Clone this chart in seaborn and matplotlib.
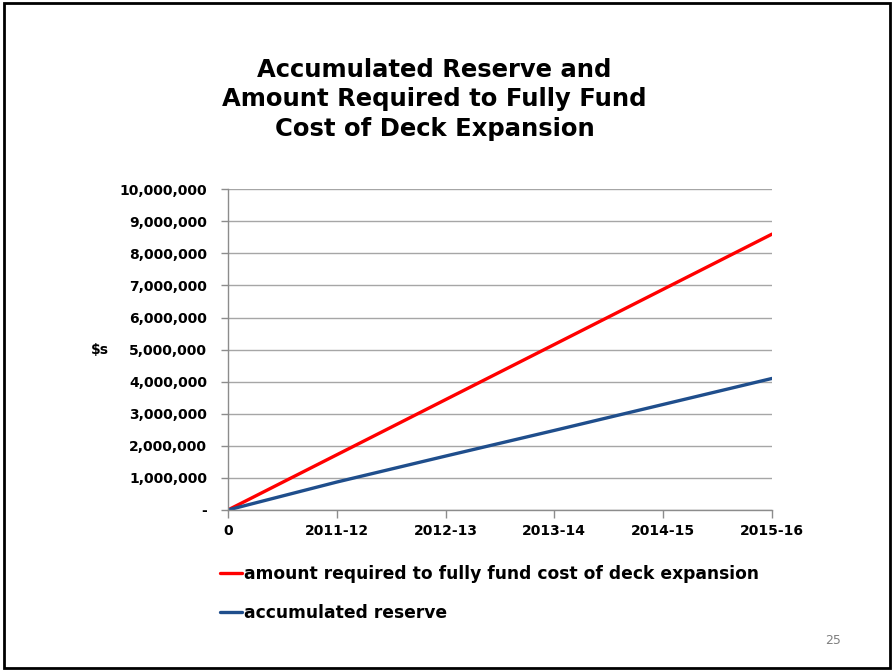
import matplotlib
matplotlib.use("Agg")
import matplotlib.pyplot as plt
import seaborn as sns
import pandas as pd
from matplotlib.patches import Rectangle
from matplotlib.ticker import FuncFormatter

# Fiscal periods and the two series (dollars)
periods = ["0", "2011-12", "2012-13", "2013-14", "2014-15", "2015-16"]
required_amount = [0, 1720000, 3440000, 5160000, 6880000, 8600000]
accumulated_reserve = [0, 870000, 1680000, 2480000, 3290000, 4100000]
series_names = ["amount required to fully fund cost of deck expansion",
                "accumulated reserve"]
series_colors = ["#ff0000", "#1f4e8c"]

rows = []
for name, vals in zip(series_names, [required_amount, accumulated_reserve]):
    for i, v in enumerate(vals):
        rows.append({"idx": i, "value": v, "series": name})
df = pd.DataFrame(rows)

sns.set_style("white")
plt.rcParams["font.family"] = ["DejaVu Sans"]
plt.rcParams["text.color"] = "black"
plt.rcParams["xtick.color"] = "black"
plt.rcParams["ytick.color"] = "black"
plt.rcParams["axes.labelcolor"] = "black"

fig = plt.figure(figsize=(8.94, 6.71), dpi=100)
ax = fig.add_axes([0.255, 0.240, 0.6085, 0.478])

sns.lineplot(data=df, x="idx", y="value", hue="series",
             palette=dict(zip(series_names, series_colors)),
             linewidth=2.4, legend=False, ax=ax)

ax.set_xlim(0, len(periods) - 1)
ax.set_ylim(0, 10000000)
ax.set_yticks(range(0, 10000001, 1000000))
ax.yaxis.set_major_formatter(FuncFormatter(lambda v, p: "-" if v == 0 else f"{int(v):,}"))
ax.set_xticks(range(len(periods)))
ax.set_xticklabels(periods)

ax.grid(axis="y", color="#a6a6a6", linewidth=1)
ax.grid(axis="x", visible=False)
for side in ["top", "right"]:
    ax.spines[side].set_visible(False)
for side in ["left", "bottom"]:
    ax.spines[side].set_color("#8c8c8c")
    ax.spines[side].set_linewidth(1)

ax.tick_params(axis="y", length=5, color="#8c8c8c", labelcolor="black",
               left=True, pad=10, labelsize=10, width=1)
ax.tick_params(axis="x", length=6, color="#8c8c8c", labelcolor="black",
               bottom=True, pad=4, labelsize=10, width=1)
for lab in ax.get_yticklabels() + ax.get_xticklabels():
    lab.set_fontweight("bold")

ax.set_xlabel("")
ax.set_ylabel("$s", rotation=0, fontsize=10, fontweight="bold", labelpad=0,
              va="center", color="black")
ax.yaxis.set_label_coords(-0.235, 0.5)

fig.text(0.486, 0.852, "Accumulated Reserve and\nAmount Required to Fully Fund\nCost of Deck Expansion",
         ha="center", va="center", fontsize=17.5, fontweight="bold",
         linespacing=1.3, color="black")

# Legend below the plot
handles = ax.get_lines()[:2]
leg = fig.legend(handles, series_names, loc="upper left",
                 bbox_to_anchor=(0.229, 0.181), frameon=False,
                 handlelength=1.3, handletextpad=0.1, labelspacing=1.25,
                 prop={"weight": "bold", "size": 12.3})
for t in leg.get_texts():
    t.set_color("black")

fig.text(0.932, 0.046, "25", ha="center", va="center", fontsize=9,
         color="#808080")

# Slide frame
fig.patches.append(Rectangle((0.004, 0.005), 0.992, 0.99, transform=fig.transFigure,
                             fill=False, edgecolor="black", linewidth=2))

fig.savefig("out.png", dpi=100)
